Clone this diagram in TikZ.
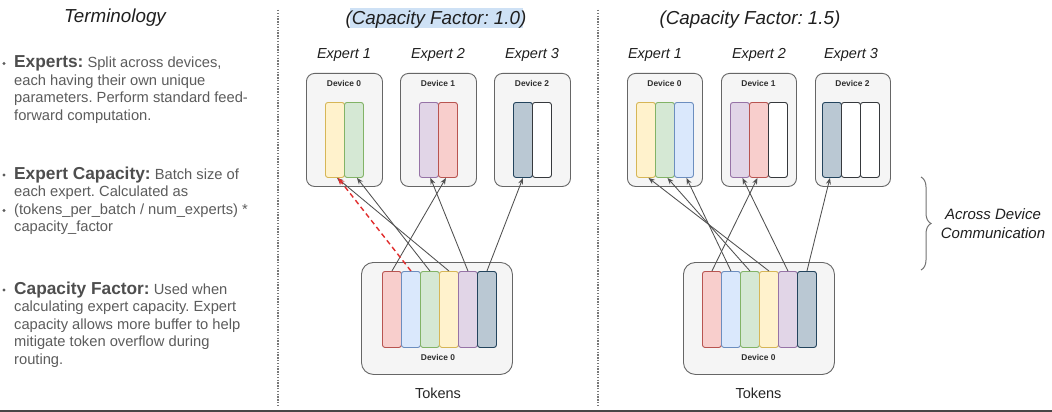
\documentclass[tikz,border=0pt]{standalone}
\usepackage{fontspec}
\setmainfont{Liberation Sans}
\usetikzlibrary{arrows.meta,decorations.pathreplacing}
\definecolor{redF}{HTML}{F8CECC}\definecolor{redD}{HTML}{B85450}
\definecolor{bluF}{HTML}{DAE8FC}\definecolor{bluD}{HTML}{6C8EBF}
\definecolor{grnF}{HTML}{D5E8D4}\definecolor{grnD}{HTML}{82B366}
\definecolor{yelF}{HTML}{FFF2CC}\definecolor{yelD}{HTML}{D6B656}
\definecolor{purF}{HTML}{E1D5E7}\definecolor{purD}{HTML}{9673A6}
\definecolor{bgyF}{HTML}{BAC8D3}\definecolor{bgyD}{HTML}{23445D}
\definecolor{whtD}{HTML}{36393D}
\definecolor{devF}{HTML}{F5F5F5}\definecolor{devD}{HTML}{666666}
\definecolor{termbody}{RGB}{92,92,92}
\definecolor{termhead}{RGB}{78,78,78}
\definecolor{arrowgray}{RGB}{80,80,80}
\definecolor{ovred}{RGB}{225,45,45}
\definecolor{hilite}{RGB}{206,225,245}
\definecolor{divgray}{RGB}{120,120,120}
\frenchspacing
\begin{document}
\begin{tikzpicture}[x=1pt,y=-1pt,
  termline/.style={anchor=base west, inner sep=0pt, text=termbody, font=\fontsize{14.7}{17}\selectfont},
  bigtitle/.style={anchor=base, inner sep=0pt, text=black!88, font=\fontsize{18.8}{22}\selectfont\itshape},
  explabel/.style={anchor=base, inner sep=0pt, text=black!88, font=\fontsize{14.5}{17}\selectfont\itshape},
  devlabel/.style={anchor=base, inner sep=0pt, text=black!82, font=\fontsize{8.4}{10}\selectfont\bfseries},
  toklabel/.style={anchor=base, inner sep=0pt, text=black!85, font=\fontsize{14.5}{17}\selectfont},
  devbox/.style={draw=devD, fill=devF, rounded corners=8pt, line width=0.9pt, anchor=north west, inner sep=0pt, minimum width=76pt, minimum height=113pt},
  tokbox/.style={draw=devD, fill=devF, rounded corners=12pt, line width=0.9pt, anchor=north west, inner sep=0pt, minimum width=151pt, minimum height=112pt},
  slot/.style={rounded corners=2.5pt, line width=0.9pt, anchor=north west, inner sep=0pt, minimum width=19pt, minimum height=75pt},
  tslot/.style={slot, minimum height=76pt},
  sred/.style={fill=redF, draw=redD},
  sblu/.style={fill=bluF, draw=bluD},
  sgrn/.style={fill=grnF, draw=grnD},
  syel/.style={fill=yelF, draw=yelD},
  spur/.style={fill=purF, draw=purD},
  sbgy/.style={fill=bgyF, draw=bgyD},
  swht/.style={fill=white, draw=whtD},
  route/.style={draw=arrowgray, line width=0.85pt, -{Stealth[length=6.5pt,width=5pt]}},
  overflow/.style={draw=ovred, line width=1.4pt, dash pattern=on 5pt off 3.5pt, -{Stealth[length=7pt,width=5.5pt]}},
  divider/.style={draw=divgray, line width=1.1pt, dash pattern=on 1.4pt off 1.4pt},
  bullet/.style={fill=termbody}
]
\useasboundingbox (0,0) rectangle (1052,412);
\fill[white] (0,0) rectangle (1052,412);

% ---------- Terminology ----------
\node[bigtitle] (termtitle) at (115,23) {Terminology};

\fill[bullet] (4,63.5) circle (1.6pt);
\node[termline] (e1) at (14,67.5) {{\color{termhead}\fontsize{17.3}{20}\selectfont\bfseries Experts:} Split across devices,};
\node[termline] (e2) at (14,85) {each having their own unique};
\node[termline] (e3) at (14,102.5) {parameters. Perform standard feed-};
\node[termline] (e4) at (14,120) {forward computation.};

\fill[bullet] (4,175) circle (1.6pt);
\fill[bullet] (4,210.5) circle (1.6pt);
\node[termline] (c1) at (14,179) {{\color{termhead}\fontsize{17.3}{20}\selectfont\bfseries Expert Capacity:} Batch size of};
\node[termline] (c2) at (14,196.5) {each expert. Calculated as};
\node[termline] (c3) at (14,214) {(tokens\_per\_batch / num\_experts) *};
\node[termline] (c4) at (14,231.5) {capacity\_factor};

\fill[bullet] (4,290) circle (1.6pt);
\node[termline] (f1) at (14,294) {{\color{termhead}\fontsize{17.3}{20}\selectfont\bfseries Capacity Factor:} Used when};
\node[termline] (f2) at (14,311.5) {calculating expert capacity. Expert};
\node[termline] (f3) at (14,329) {capacity allows more buffer to help};
\node[termline] (f4) at (14,346.5) {mitigate token overflow during};
\node[termline] (f5) at (14,364) {routing.};

% ---------- dividers ----------
\draw[divider] (278,10) -- (278,406);
\draw[divider] (598,10) -- (598,406);
\draw[line width=2pt, draw=black!72] (0,411) -- (1052,411);

% ---------- Panel 1 ----------
\fill[hilite] (350,8) rectangle (523,28.5);
\node[bigtitle] (p1title) at (436,24.5) {(Capacity Factor: 1.0)};
\node[explabel] (p1e1) at (344,59) {Expert 1};
\node[explabel] (p1e2) at (438,59) {Expert 2};
\node[explabel] (p1e3) at (532,59) {Expert 3};

\node[devbox] (p1d0) at (306,73) {};
\node[devbox] (p1d1) at (400,73) {};
\node[devbox] (p1d2) at (494,73) {};
\node[devlabel] (p1d0l) at (344,86.5) {Device 0};
\node[devlabel] (p1d1l) at (438,86.5) {Device 1};
\node[devlabel] (p1d2l) at (532,86.5) {Device 2};

\node[slot,syel] (p1y) at (325,102) {};
\node[slot,sgrn] (p1g) at (344,102) {};
\node[slot,spur] (p1p) at (419,102) {};
\node[slot,sred] (p1r) at (438,102) {};
\node[slot,sbgy] (p1b) at (513,102) {};
\node[slot,swht] (p1w) at (532,102) {};

\node[tokbox] (p1tok) at (361,262) {};
\node[devlabel] (p1tokl) at (438,360.5) {Device 0};
\node[toklabel] (p1tokens) at (438,398) {Tokens};
\node[tslot,sred] (p1tr) at (382,271) {};
\node[tslot,sblu] (p1tb) at (401,271) {};
\node[tslot,sgrn] (p1tg) at (420,271) {};
\node[tslot,syel] (p1ty) at (439,271) {};
\node[tslot,spur] (p1tp) at (458,271) {};
\node[tslot,sbgy] (p1tq) at (477,271) {};

\draw[route] (p1tr.north) -- ([xshift=-2pt]p1r.south);
\draw[route] (p1tg.north) -- ([xshift=3pt]p1g.south);
\draw[route] (p1ty.north) -- ([xshift=2pt]p1y.south);
\draw[route] (p1tp.north) -- ([xshift=1.5pt]p1p.south);
\draw[route] (p1tq.north) -- (p1b.south);
\draw[overflow] (p1tb.north) -- ([xshift=3pt]p1y.south);

% ---------- Panel 2 ----------
\node[bigtitle] (p2title) at (750,24.5) {(Capacity Factor: 1.5)};
\node[explabel] (p2e1) at (655,59) {Expert 1};
\node[explabel] (p2e2) at (759,59) {Expert 2};
\node[explabel] (p2e3) at (851,59) {Expert 3};

\node[devbox, minimum width=75pt] (p2d0) at (627,73) {};
\node[devbox, minimum width=75pt] (p2d1) at (721,73) {};
\node[devbox, minimum width=75pt] (p2d2) at (815,73) {};
\node[devlabel] (p2d0l) at (664.5,86.5) {Device 0};
\node[devlabel] (p2d1l) at (758.5,86.5) {Device 1};
\node[devlabel] (p2d2l) at (852.5,86.5) {Device 2};

\node[slot,syel] (p2y) at (636,102) {};
\node[slot,sgrn] (p2g) at (655,102) {};
\node[slot,sblu] (p2u) at (674,102) {};
\node[slot,spur] (p2p) at (730,102) {};
\node[slot,sred] (p2r) at (749,102) {};
\node[slot,swht] (p2w) at (768,102) {};
\node[slot,sbgy] (p2b) at (822,102) {};
\node[slot,swht] (p2w2) at (841,102) {};
\node[slot,swht] (p2w3) at (860,102) {};

\node[tokbox] (p2tok) at (683,262) {};
\node[devlabel] (p2tokl) at (758.5,360.5) {Device 0};
\node[toklabel] (p2tokens) at (758.5,398) {Tokens};
\node[tslot,sred] (p2tr) at (702,271) {};
\node[tslot,sblu] (p2tb) at (721,271) {};
\node[tslot,sgrn] (p2tg) at (740,271) {};
\node[tslot,syel] (p2ty) at (759,271) {};
\node[tslot,spur] (p2tp) at (778,271) {};
\node[tslot,sbgy] (p2tq) at (797,271) {};

\draw[route] (p2tr.north) -- ([xshift=-1.5pt]p2r.south);
\draw[route] (p2tb.north) -- ([xshift=2.5pt]p2u.south);
\draw[route] (p2tg.north) -- ([xshift=2.5pt]p2g.south);
\draw[route] (p2ty.north) -- ([xshift=2.5pt]p2y.south);
\draw[route] (p2tp.north) -- ([xshift=2.5pt]p2p.south);
\draw[route] (p2tq.north) -- ([xshift=-2pt]p2b.south);

% ---------- brace ----------
\draw[decorate, decoration={brace, amplitude=10pt}, draw=black!55, line width=1pt] (921,177) -- (921,270);
\node[explabel, font=\fontsize{15}{18}\selectfont\itshape] (acr1) at (993,219) {Across Device};
\node[explabel, font=\fontsize{15}{18}\selectfont\itshape] (acr2) at (993,238) {Communication};
\end{tikzpicture}
\end{document}
